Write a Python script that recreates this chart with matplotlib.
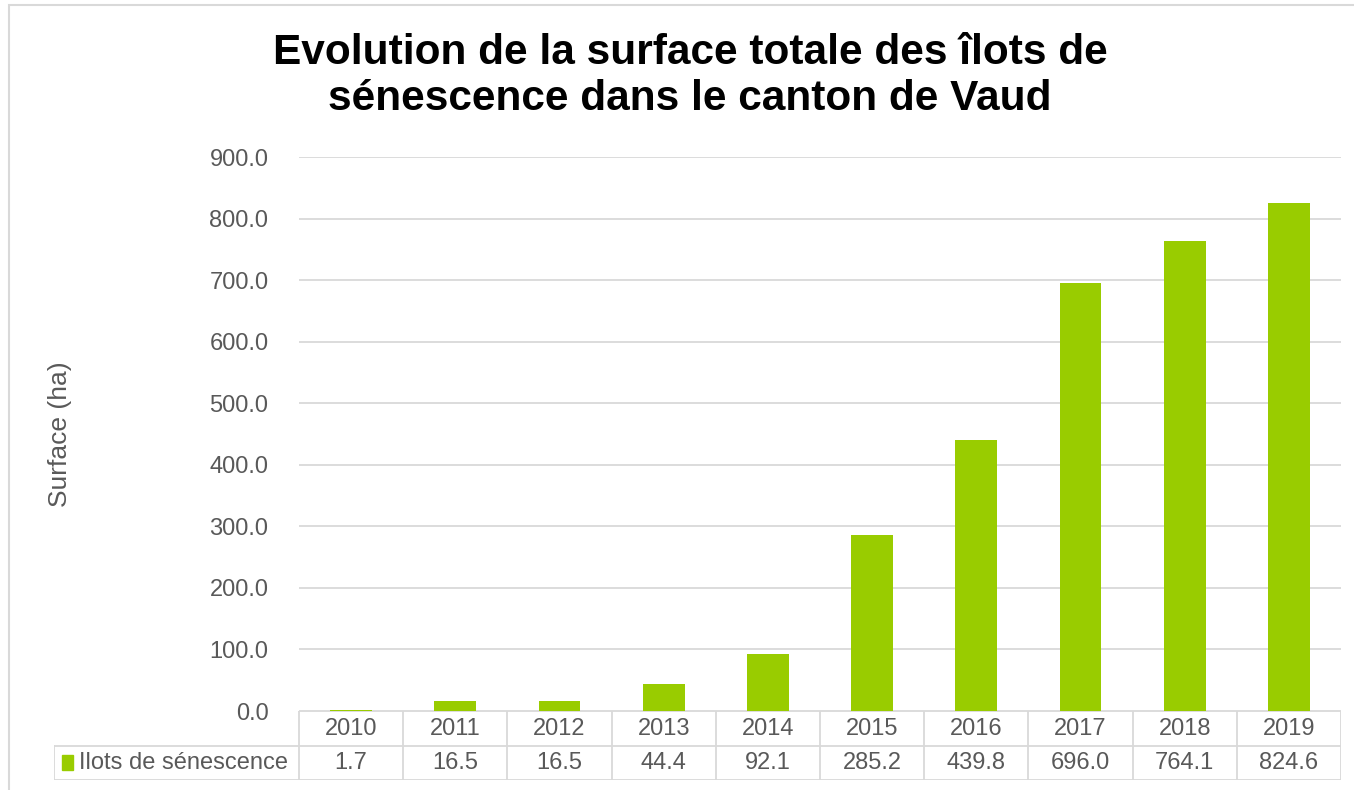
import matplotlib
matplotlib.use("Agg")
from matplotlib import pyplot as plt
from matplotlib.patches import Rectangle

plt.rcParams["font.family"] = ["Liberation Sans", "DejaVu Sans"]

# data
years = ["2010", "2011", "2012", "2013", "2014", "2015", "2016", "2017", "2018", "2019"]
surface = [1.7, 16.5, 16.5, 44.4, 92.1, 285.2, 439.8, 696.0, 764.1, 824.6]
series_name = "Ilots de sénescence"
title = "Evolution de la surface totale des îlots de\nsénescence dans le canton de Vaud"
ylabel = "Surface (ha)"

green = "#99CC00"
grey_text = "#595959"
grid_col = "#d9d9d9"
fs = 17

W, H = 1354, 790
fig = plt.figure(figsize=(W / 100, H / 100), dpi=100)

# outer chart border (only top and left visible)
fig.patches.append(Rectangle((9 / W, -0.05), 1.1, 785 / H + 0.05, transform=fig.transFigure,
                             fill=False, edgecolor=grid_col, linewidth=1.5))

# main bar axes
x0, x1 = 299, 1341
ax = fig.add_axes([x0 / W, (H - 711) / H, (x1 - x0) / W, (711 - 157) / H])
xs = list(range(len(years)))
ax.bar(xs, surface, width=0.4, color=green, zorder=3)
ax.set_xlim(-0.5, len(years) - 0.5)
ax.set_ylim(0, 900)
ax.set_yticks(range(0, 901, 100))
ax.set_yticklabels([f"{v:.1f}" for v in range(0, 901, 100)])
ax.set_xticks([])
ax.tick_params(axis="y", length=0, labelsize=fs, labelcolor=grey_text, pad=22)
ax.grid(axis="y", color=grid_col, linewidth=1.3, zorder=0)
for s in ax.spines.values():
    s.set_visible(False)
ax.set_ylabel(ylabel, fontsize=19, color=grey_text, labelpad=0, va="center")
ax.yaxis.set_label_coords((60 - x0) / (x1 - x0), 0.5)

fig.text(690 / W, 1 - 76 / H, title, ha="center", va="center", fontsize=30.5,
         fontweight="bold", linespacing=1.2)

# data table below
t0 = 54
col_w = (x1 - x0) / len(years)
left_units = (x0 - t0) / col_w
tab = fig.add_axes([t0 / W, (H - 780) / H, (x1 - t0) / W, (780 - 711) / H])
tab.set_xlim(-0.5 - left_units, len(years) - 0.5)
tab.set_ylim(0, 2)
tab.axis("off")
lw = 1.3
# horizontal lines
tab.plot([-0.5, len(years) - 0.5], [2, 2], color=grid_col, lw=lw)
tab.plot([-0.5 - left_units, len(years) - 0.5], [1, 1], color=grid_col, lw=lw)
tab.plot([-0.5 - left_units, len(years) - 0.5], [0, 0], color=grid_col, lw=lw)
# vertical lines
for i in range(len(years) + 1):
    tab.plot([i - 0.5, i - 0.5], [0, 2], color=grid_col, lw=lw)
tab.plot([-0.5 - left_units] * 2, [0, 1], color=grid_col, lw=lw)
for i, (yr, v) in enumerate(zip(years, surface)):
    tab.text(i, 1.48, yr, ha="center", va="center", fontsize=fs, color=grey_text)
    tab.text(i, 0.48, f"{v:.1f}", ha="center", va="center", fontsize=fs, color=grey_text)
# legend key in the row header
key_x = -0.5 - left_units + 8 / col_w
tab.add_patch(Rectangle((key_x, 0.3), 11 / col_w, 0.42, color=green))
tab.text(key_x + 17 / col_w, 0.48, series_name, ha="left", va="center",
         fontsize=fs, color=grey_text)

fig.savefig("out.png", dpi=100)
